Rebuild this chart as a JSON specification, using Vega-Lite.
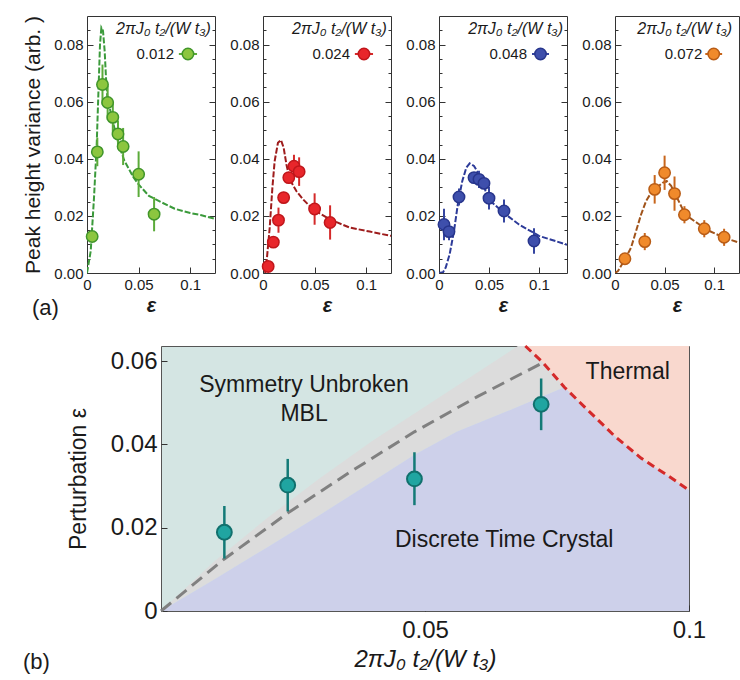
{
"$schema": "https://vega.github.io/schema/vega-lite/v6.json",
"padding": {"left": 22, "top": 15, "right": 0, "bottom": 0},
"background": "white",
"spacing": 19,
"config": {
  "font": "Liberation Sans",
  "view": {"stroke": "#333333", "strokeWidth": 1},
  "axis": {"grid": false, "domain": false, "tickColor": "#333333", "tickWidth": 1, "labelColor": "#1a1a1a", "titleColor": "#1a1a1a", "titleFontWeight": "normal", "labelFlush": false, "labelOverlap": false, "labelFont": "Liberation Sans", "titleFont": "Liberation Sans"}
},
"datasets": {
  "g": [
    {"x":0.005,"y":0.0128,"lo":0.0118,"hi":0.0138},
    {"x":0.01,"y":0.0424,"lo":0.0374,"hi":0.0474},
    {"x":0.015,"y":0.066,"lo":0.059,"hi":0.073},
    {"x":0.02,"y":0.0597,"lo":0.0537,"hi":0.0657},
    {"x":0.025,"y":0.0545,"lo":0.049,"hi":0.06},
    {"x":0.03,"y":0.0487,"lo":0.044,"hi":0.0534},
    {"x":0.035,"y":0.0443,"lo":0.0378,"hi":0.0508},
    {"x":0.05,"y":0.0346,"lo":0.0266,"hi":0.0426},
    {"x":0.065,"y":0.0206,"lo":0.0146,"hi":0.0266}
  ],
  "gc": [
    {"x":0,"y":0},{"x":0.0036,"y":0.0077},{"x":0.0068,"y":0.0264},{"x":0.0094,"y":0.045},{"x":0.011,"y":0.0626},
    {"x":0.0126,"y":0.08},{"x":0.0139,"y":0.0859},{"x":0.0155,"y":0.0848},{"x":0.0171,"y":0.0778},{"x":0.0184,"y":0.0684},
    {"x":0.0197,"y":0.0614},{"x":0.025,"y":0.053},{"x":0.03,"y":0.046},{"x":0.036,"y":0.0395},{"x":0.045,"y":0.0335},
    {"x":0.05,"y":0.031},{"x":0.06,"y":0.027},{"x":0.073,"y":0.0246},{"x":0.085,"y":0.0225},{"x":0.1,"y":0.021},
    {"x":0.11,"y":0.0203},{"x":0.124,"y":0.019}
  ],
  "r": [
    {"x":0.005,"y":0.0023,"lo":0.0013,"hi":0.0033},
    {"x":0.01,"y":0.0108,"lo":0.0098,"hi":0.0118},
    {"x":0.015,"y":0.0185,"lo":0.0141,"hi":0.0229},
    {"x":0.02,"y":0.0264,"lo":0.0244,"hi":0.0284},
    {"x":0.025,"y":0.0334,"lo":0.0314,"hi":0.0354},
    {"x":0.03,"y":0.0374,"lo":0.0334,"hi":0.0414},
    {"x":0.035,"y":0.0355,"lo":0.0305,"hi":0.0405},
    {"x":0.05,"y":0.0224,"lo":0.0169,"hi":0.0279},
    {"x":0.065,"y":0.0177,"lo":0.0117,"hi":0.0237}
  ],
  "rc": [
    {"x":0.002,"y":0},{"x":0.0035,"y":0.004},{"x":0.0065,"y":0.0159},{"x":0.0091,"y":0.0299},{"x":0.0113,"y":0.0392},
    {"x":0.0145,"y":0.0456},{"x":0.0174,"y":0.0466},{"x":0.02,"y":0.0439},{"x":0.0227,"y":0.038},{"x":0.0259,"y":0.0328},
    {"x":0.0323,"y":0.0287},{"x":0.0388,"y":0.0258},{"x":0.0484,"y":0.0223},{"x":0.0646,"y":0.0188},{"x":0.084,"y":0.0159},
    {"x":0.1034,"y":0.0145},{"x":0.124,"y":0.013}
  ],
  "b": [
    {"x":0.005,"y":0.017,"lo":0.0115,"hi":0.0225},
    {"x":0.01,"y":0.0145,"lo":0.0115,"hi":0.0175},
    {"x":0.02,"y":0.0266,"lo":0.0236,"hi":0.0296},
    {"x":0.035,"y":0.0334,"lo":0.0314,"hi":0.0354},
    {"x":0.04,"y":0.0328,"lo":0.0298,"hi":0.0358},
    {"x":0.045,"y":0.0314,"lo":0.0294,"hi":0.0334},
    {"x":0.05,"y":0.0262,"lo":0.0222,"hi":0.0302},
    {"x":0.065,"y":0.0217,"lo":0.0177,"hi":0.0257},
    {"x":0.095,"y":0.0112,"lo":0.0067,"hi":0.0157}
  ],
  "bc": [
    {"x":0,"y":0},{"x":0.0041,"y":0.0003},{"x":0.0067,"y":0.0019},{"x":0.0106,"y":0.0065},{"x":0.015,"y":0.0147},
    {"x":0.0193,"y":0.0252},{"x":0.0233,"y":0.0322},{"x":0.0273,"y":0.0369},{"x":0.0307,"y":0.0384},{"x":0.035,"y":0.0375},
    {"x":0.04,"y":0.0346},{"x":0.0466,"y":0.0287},{"x":0.0534,"y":0.0246},{"x":0.0667,"y":0.0205},{"x":0.08,"y":0.017},
    {"x":0.1,"y":0.013},{"x":0.128,"y":0.0099}
  ],
  "o": [
    {"x":0.01,"y":0.005,"lo":0.004,"hi":0.006},
    {"x":0.03,"y":0.011,"lo":0.008,"hi":0.014},
    {"x":0.04,"y":0.0293,"lo":0.0243,"hi":0.0343},
    {"x":0.05,"y":0.0351,"lo":0.0291,"hi":0.0411},
    {"x":0.06,"y":0.0278,"lo":0.0218,"hi":0.0338},
    {"x":0.07,"y":0.0204,"lo":0.0174,"hi":0.0234},
    {"x":0.09,"y":0.0155,"lo":0.0125,"hi":0.0185},
    {"x":0.11,"y":0.0125,"lo":0.0095,"hi":0.0155}
  ],
  "oc": [
    {"x":0,"y":0},{"x":0.003,"y":0.0007},{"x":0.0101,"y":0.0048},{"x":0.0162,"y":0.0089},{"x":0.0202,"y":0.0135},
    {"x":0.0263,"y":0.0205},{"x":0.0313,"y":0.0252},{"x":0.0364,"y":0.0281},{"x":0.042,"y":0.0299},{"x":0.048,"y":0.0316},
    {"x":0.0521,"y":0.0322},{"x":0.0566,"y":0.0305},{"x":0.0616,"y":0.027},{"x":0.0683,"y":0.0223},{"x":0.075,"y":0.0194},
    {"x":0.0851,"y":0.017},{"x":0.0952,"y":0.0147},{"x":0.1087,"y":0.0126},{"x":0.125,"y":0.0106}
  ],
  "band": [
    {"x":0,"lo":0,"hi":0},{"x":0.01,"lo":0.0075,"hi":0.0118},{"x":0.02,"lo":0.0152,"hi":0.0222},
    {"x":0.03,"lo":0.023,"hi":0.0318},{"x":0.04,"lo":0.031,"hi":0.0408},{"x":0.048,"lo":0.0375,"hi":0.0474},
    {"x":0.056,"lo":0.043,"hi":0.054},{"x":0.0676,"lo":0.049,"hi":0.0636},{"x":0.0764,"lo":0.0537,"hi":0.0636}
  ],
  "dtc": [
    {"x":0,"y":0},{"x":0.01,"y":0.0075},{"x":0.02,"y":0.0152},{"x":0.03,"y":0.023},{"x":0.04,"y":0.031},
    {"x":0.048,"y":0.0375},{"x":0.056,"y":0.043},{"x":0.0676,"y":0.049},{"x":0.0764,"y":0.0537},{"x":0.0802,"y":0.049},
    {"x":0.0859,"y":0.042},{"x":0.0909,"y":0.0367},{"x":0.096,"y":0.0325},{"x":0.1,"y":0.029}
  ],
  "red": [
    {"x":0.069,"y":0.0636},{"x":0.0722,"y":0.0598},{"x":0.0764,"y":0.0537},{"x":0.0802,"y":0.049},
    {"x":0.0859,"y":0.042},{"x":0.0909,"y":0.0367},{"x":0.096,"y":0.0325},{"x":0.1,"y":0.029}
  ],
  "gline": [
    {"x":0,"y":0},{"x":0.012,"y":0.0125},{"x":0.024,"y":0.0235},{"x":0.036,"y":0.0335},{"x":0.048,"y":0.043},
    {"x":0.06,"y":0.0515},{"x":0.072,"y":0.0594}
  ],
  "ph": [
    {"x":0.012,"y":0.0189,"lo":0.0126,"hi":0.0252},
    {"x":0.024,"y":0.0302,"lo":0.0239,"hi":0.0365},
    {"x":0.048,"y":0.0317,"lo":0.0254,"hi":0.0381},
    {"x":0.072,"y":0.0496,"lo":0.0434,"hi":0.0558}
  ]
},
"vconcat": [
  {"spacing": 13, "hconcat": [
    {"width": 128, "height": 257, "resolve": {"axis": {"y": "independent"}}, "layer": [
      {"data": {"name": "gc"}, "mark": {"type": "line", "color": "#3b9a3b", "strokeWidth": 2, "strokeDash": [6, 2], "clip": true},
       "encoding": {
         "x": {"field": "x", "type": "quantitative", "scale": {"domain": [0, 0.124], "nice": false, "zero": false},
               "axis": {"values": [0, 0.05, 0.1], "format": ".2~f", "tickSize": -6, "labelPadding": 10, "labelFontSize": 15, "title": "ε", "titleFontSize": 20, "titleFontStyle": "italic", "titleFontWeight": "bold", "titlePadding": 3}},
         "y": {"field": "y", "type": "quantitative", "scale": {"domain": [0, 0.09], "nice": false},
               "axis": {"values": [0, 0.02, 0.04, 0.06, 0.08], "format": ".2f", "tickSize": -6, "labelPadding": 10, "labelFontSize": 15, "title": "Peak height variance (arb. )", "titleFontSize": 21, "titlePadding": 10}}}},
      {"data": {"name": "gc"}, "mark": {"type": "line", "opacity": 0},
       "encoding": {"x": {"field": "x", "type": "quantitative"}, "y": {"field": "y", "type": "quantitative", "axis": {"orient": "left", "values": [0.005,0.01,0.015,0.025,0.03,0.035,0.045,0.05,0.055,0.065,0.07,0.075,0.085], "labels": false, "tickSize": -3, "title": null, "minExtent": 0}}}},
      {"data": {"name": "gc"}, "mark": {"type": "line", "opacity": 0},
       "encoding": {"x": {"field": "x", "type": "quantitative"}, "y": {"field": "y", "type": "quantitative", "axis": {"orient": "right", "values": [0.005,0.01,0.015,0.025,0.03,0.035,0.045,0.05,0.055,0.065,0.07,0.075,0.085], "labels": false, "tickSize": -3, "title": null, "minExtent": 0}}}},
      {"data": {"name": "gc"}, "mark": {"type": "line", "opacity": 0},
       "encoding": {"x": {"field": "x", "type": "quantitative"}, "y": {"field": "y", "type": "quantitative", "axis": {"orient": "right", "values": [0.02,0.04,0.06,0.08], "labels": false, "tickSize": -6, "title": null, "minExtent": 0}}}},
      {"data": {"name": "g"}, "mark": {"type": "rule", "color": "#5bab3a", "strokeWidth": 2},
       "encoding": {"x": {"field": "x", "type": "quantitative"}, "y": {"field": "lo", "type": "quantitative", "axis": null}, "y2": {"field": "hi"}}},
      {"data": {"name": "g"}, "mark": {"type": "circle", "size": 130, "fill": "#8cc63f", "stroke": "#40952a", "strokeWidth": 1.5, "opacity": 1},
       "encoding": {"x": {"field": "x", "type": "quantitative"}, "y": {"field": "y", "type": "quantitative", "axis": null}}},
      {"data": {"values": [{}]}, "mark": {"type": "text", "text": "2πJ₀ t₂/(W t₃)", "align": "right", "baseline": "middle", "fontSize": 16, "fontStyle": "italic", "color": "#1a1a1a"},
       "encoding": {"x": {"datum": 0.12}, "y": {"datum": 0.0855, "axis": null}}},
      {"data": {"values": [{}]}, "mark": {"type": "text", "text": "0.012", "align": "right", "baseline": "middle", "fontSize": 15, "color": "#1a1a1a"},
       "encoding": {"x": {"datum": 0.0843}, "y": {"datum": 0.0767, "axis": null}}},
      {"data": {"values": [{}]}, "mark": {"type": "rule", "color": "#5bab3a", "strokeWidth": 2},
       "encoding": {"x": {"datum": 0.089}, "x2": {"datum": 0.1066}, "y": {"datum": 0.0767, "axis": null}}},
      {"data": {"values": [{}]}, "mark": {"type": "circle", "size": 130, "fill": "#8cc63f", "stroke": "#40952a", "strokeWidth": 1.5, "opacity": 1},
       "encoding": {"x": {"datum": 0.0978}, "y": {"datum": 0.0767, "axis": null}}},
      {"data": {"values": [{}]}, "mark": {"type": "text", "text": "(a)", "align": "left", "baseline": "middle", "fontSize": 22, "color": "#1a1a1a"},
       "encoding": {"x": {"datum": -0.0533}, "y": {"datum": -0.0123, "axis": null}}}
    ]},
    {"width": 128, "height": 257, "resolve": {"axis": {"y": "independent"}}, "layer": [
      {"data": {"name": "rc"}, "mark": {"type": "line", "color": "#9e1c1c", "strokeWidth": 2, "strokeDash": [6, 2], "clip": true},
       "encoding": {
         "x": {"field": "x", "type": "quantitative", "scale": {"domain": [0, 0.124], "nice": false, "zero": false},
               "axis": {"values": [0, 0.05, 0.1], "format": ".2~f", "tickSize": -6, "labelPadding": 10, "labelFontSize": 15, "title": "ε", "titleFontSize": 20, "titleFontStyle": "italic", "titleFontWeight": "bold", "titlePadding": 3}},
         "y": {"field": "y", "type": "quantitative", "scale": {"domain": [0, 0.09], "nice": false},
               "axis": {"values": [0, 0.02, 0.04, 0.06, 0.08], "format": ".2f", "tickSize": -6, "labelPadding": 10, "labelFontSize": 15, "title": null}}}},
      {"data": {"name": "rc"}, "mark": {"type": "line", "opacity": 0},
       "encoding": {"x": {"field": "x", "type": "quantitative"}, "y": {"field": "y", "type": "quantitative", "axis": {"orient": "left", "values": [0.005,0.01,0.015,0.025,0.03,0.035,0.045,0.05,0.055,0.065,0.07,0.075,0.085], "labels": false, "tickSize": -3, "title": null, "minExtent": 0}}}},
      {"data": {"name": "rc"}, "mark": {"type": "line", "opacity": 0},
       "encoding": {"x": {"field": "x", "type": "quantitative"}, "y": {"field": "y", "type": "quantitative", "axis": {"orient": "right", "values": [0.005,0.01,0.015,0.025,0.03,0.035,0.045,0.05,0.055,0.065,0.07,0.075,0.085], "labels": false, "tickSize": -3, "title": null, "minExtent": 0}}}},
      {"data": {"name": "rc"}, "mark": {"type": "line", "opacity": 0},
       "encoding": {"x": {"field": "x", "type": "quantitative"}, "y": {"field": "y", "type": "quantitative", "axis": {"orient": "right", "values": [0.02,0.04,0.06,0.08], "labels": false, "tickSize": -6, "title": null, "minExtent": 0}}}},
      {"data": {"name": "r"}, "mark": {"type": "rule", "color": "#d42a2a", "strokeWidth": 2},
       "encoding": {"x": {"field": "x", "type": "quantitative"}, "y": {"field": "lo", "type": "quantitative", "axis": null}, "y2": {"field": "hi"}}},
      {"data": {"name": "r"}, "mark": {"type": "circle", "size": 130, "fill": "#e8262b", "stroke": "#c0161b", "strokeWidth": 1.5, "opacity": 1},
       "encoding": {"x": {"field": "x", "type": "quantitative"}, "y": {"field": "y", "type": "quantitative", "axis": null}}},
      {"data": {"values": [{}]}, "mark": {"type": "text", "text": "2πJ₀ t₂/(W t₃)", "align": "right", "baseline": "middle", "fontSize": 16, "fontStyle": "italic", "color": "#1a1a1a"},
       "encoding": {"x": {"datum": 0.12}, "y": {"datum": 0.0855, "axis": null}}},
      {"data": {"values": [{}]}, "mark": {"type": "text", "text": "0.024", "align": "right", "baseline": "middle", "fontSize": 15, "color": "#1a1a1a"},
       "encoding": {"x": {"datum": 0.0843}, "y": {"datum": 0.0767, "axis": null}}},
      {"data": {"values": [{}]}, "mark": {"type": "rule", "color": "#d42a2a", "strokeWidth": 2},
       "encoding": {"x": {"datum": 0.089}, "x2": {"datum": 0.1066}, "y": {"datum": 0.0767, "axis": null}}},
      {"data": {"values": [{}]}, "mark": {"type": "circle", "size": 130, "fill": "#e8262b", "stroke": "#c0161b", "strokeWidth": 1.5, "opacity": 1},
       "encoding": {"x": {"datum": 0.0978}, "y": {"datum": 0.0767, "axis": null}}}
    ]},
    {"width": 128, "height": 257, "resolve": {"axis": {"y": "independent"}}, "layer": [
      {"data": {"name": "bc"}, "mark": {"type": "line", "color": "#2d3b99", "strokeWidth": 2, "strokeDash": [6, 2], "clip": true},
       "encoding": {
         "x": {"field": "x", "type": "quantitative", "scale": {"domain": [0, 0.128], "nice": false, "zero": false},
               "axis": {"values": [0, 0.05, 0.1], "format": ".2~f", "tickSize": -6, "labelPadding": 10, "labelFontSize": 15, "title": "ε", "titleFontSize": 20, "titleFontStyle": "italic", "titleFontWeight": "bold", "titlePadding": 3}},
         "y": {"field": "y", "type": "quantitative", "scale": {"domain": [0, 0.09], "nice": false},
               "axis": {"values": [0, 0.02, 0.04, 0.06, 0.08], "format": ".2f", "tickSize": -6, "labelPadding": 10, "labelFontSize": 15, "title": null}}}},
      {"data": {"name": "bc"}, "mark": {"type": "line", "opacity": 0},
       "encoding": {"x": {"field": "x", "type": "quantitative"}, "y": {"field": "y", "type": "quantitative", "axis": {"orient": "left", "values": [0.005,0.01,0.015,0.025,0.03,0.035,0.045,0.05,0.055,0.065,0.07,0.075,0.085], "labels": false, "tickSize": -3, "title": null, "minExtent": 0}}}},
      {"data": {"name": "bc"}, "mark": {"type": "line", "opacity": 0},
       "encoding": {"x": {"field": "x", "type": "quantitative"}, "y": {"field": "y", "type": "quantitative", "axis": {"orient": "right", "values": [0.005,0.01,0.015,0.025,0.03,0.035,0.045,0.05,0.055,0.065,0.07,0.075,0.085], "labels": false, "tickSize": -3, "title": null, "minExtent": 0}}}},
      {"data": {"name": "bc"}, "mark": {"type": "line", "opacity": 0},
       "encoding": {"x": {"field": "x", "type": "quantitative"}, "y": {"field": "y", "type": "quantitative", "axis": {"orient": "right", "values": [0.02,0.04,0.06,0.08], "labels": false, "tickSize": -6, "title": null, "minExtent": 0}}}},
      {"data": {"name": "b"}, "mark": {"type": "rule", "color": "#3545a0", "strokeWidth": 2},
       "encoding": {"x": {"field": "x", "type": "quantitative"}, "y": {"field": "lo", "type": "quantitative", "axis": null}, "y2": {"field": "hi"}}},
      {"data": {"name": "b"}, "mark": {"type": "circle", "size": 130, "fill": "#3e4fac", "stroke": "#27358c", "strokeWidth": 1.5, "opacity": 1},
       "encoding": {"x": {"field": "x", "type": "quantitative"}, "y": {"field": "y", "type": "quantitative", "axis": null}}},
      {"data": {"values": [{}]}, "mark": {"type": "text", "text": "2πJ₀ t₂/(W t₃)", "align": "right", "baseline": "middle", "fontSize": 16, "fontStyle": "italic", "color": "#1a1a1a"},
       "encoding": {"x": {"datum": 0.124}, "y": {"datum": 0.0855, "axis": null}}},
      {"data": {"values": [{}]}, "mark": {"type": "text", "text": "0.048", "align": "right", "baseline": "middle", "fontSize": 15, "color": "#1a1a1a"},
       "encoding": {"x": {"datum": 0.088}, "y": {"datum": 0.0767, "axis": null}}},
      {"data": {"values": [{}]}, "mark": {"type": "rule", "color": "#3545a0", "strokeWidth": 2},
       "encoding": {"x": {"datum": 0.093}, "x2": {"datum": 0.11}, "y": {"datum": 0.0767, "axis": null}}},
      {"data": {"values": [{}]}, "mark": {"type": "circle", "size": 130, "fill": "#3e4fac", "stroke": "#27358c", "strokeWidth": 1.5, "opacity": 1},
       "encoding": {"x": {"datum": 0.1015}, "y": {"datum": 0.0767, "axis": null}}}
    ]},
    {"width": 124, "height": 257, "resolve": {"axis": {"y": "independent"}}, "layer": [
      {"data": {"name": "oc"}, "mark": {"type": "line", "color": "#a1541b", "strokeWidth": 2, "strokeDash": [6, 2], "clip": true},
       "encoding": {
         "x": {"field": "x", "type": "quantitative", "scale": {"domain": [0, 0.125], "nice": false, "zero": false},
               "axis": {"values": [0, 0.05, 0.1], "format": ".2~f", "tickSize": -6, "labelPadding": 10, "labelFontSize": 15, "title": "ε", "titleFontSize": 20, "titleFontStyle": "italic", "titleFontWeight": "bold", "titlePadding": 3}},
         "y": {"field": "y", "type": "quantitative", "scale": {"domain": [0, 0.09], "nice": false},
               "axis": {"values": [0, 0.02, 0.04, 0.06, 0.08], "format": ".2f", "tickSize": -6, "labelPadding": 10, "labelFontSize": 15, "title": null}}}},
      {"data": {"name": "oc"}, "mark": {"type": "line", "opacity": 0},
       "encoding": {"x": {"field": "x", "type": "quantitative"}, "y": {"field": "y", "type": "quantitative", "axis": {"orient": "left", "values": [0.005,0.01,0.015,0.025,0.03,0.035,0.045,0.05,0.055,0.065,0.07,0.075,0.085], "labels": false, "tickSize": -3, "title": null, "minExtent": 0}}}},
      {"data": {"name": "o"}, "mark": {"type": "rule", "color": "#c8661c", "strokeWidth": 2},
       "encoding": {"x": {"field": "x", "type": "quantitative"}, "y": {"field": "lo", "type": "quantitative", "axis": null}, "y2": {"field": "hi"}}},
      {"data": {"name": "o"}, "mark": {"type": "circle", "size": 130, "fill": "#f08a2b", "stroke": "#b85c16", "strokeWidth": 1.5, "opacity": 1},
       "encoding": {"x": {"field": "x", "type": "quantitative"}, "y": {"field": "y", "type": "quantitative", "axis": null}}},
      {"data": {"values": [{}]}, "mark": {"type": "text", "text": "2πJ₀ t₂/(W t₃)", "align": "right", "baseline": "middle", "fontSize": 16, "fontStyle": "italic", "color": "#1a1a1a"},
       "encoding": {"x": {"datum": 0.118}, "y": {"datum": 0.0855, "axis": null}}},
      {"data": {"values": [{}]}, "mark": {"type": "text", "text": "0.072", "align": "right", "baseline": "middle", "fontSize": 15, "color": "#1a1a1a"},
       "encoding": {"x": {"datum": 0.088}, "y": {"datum": 0.0767, "axis": null}}},
      {"data": {"values": [{}]}, "mark": {"type": "rule", "color": "#c8661c", "strokeWidth": 2},
       "encoding": {"x": {"datum": 0.091}, "x2": {"datum": 0.108}, "y": {"datum": 0.0767, "axis": null}}},
      {"data": {"values": [{}]}, "mark": {"type": "circle", "size": 130, "fill": "#f08a2b", "stroke": "#b85c16", "strokeWidth": 1.5, "opacity": 1},
       "encoding": {"x": {"datum": 0.0995}, "y": {"datum": 0.0767, "axis": null}}}
    ]}
  ]},
  {"spacing": -69, "hconcat": [
    {"width": 1, "height": 265, "view": {"stroke": null}, "data": {"values": [{}]}, "mark": {"type": "point", "opacity": 0}, "encoding": {}},
    {"width": 528, "height": 265,
     "view": {"fill": "#d4e5e3", "stroke": "#555555"},
     "layer": [
      {"data": {"name": "band"}, "mark": {"type": "area", "color": "#dcdcdc", "opacity": 1},
       "encoding": {
         "x": {"field": "x", "type": "quantitative", "scale": {"domain": [0, 0.1], "nice": false, "zero": false},
               "axis": {"values": [0.05, 0.1], "format": ".2~f", "tickSize": -6, "labelPadding": 13, "labelFontSize": 24, "title": "2πJ₀ t₂/(W t₃)", "titleFontSize": 24, "titleFontStyle": "italic", "titlePadding": 5}},
         "y": {"field": "lo", "type": "quantitative", "scale": {"domain": [0, 0.0636], "nice": false},
               "axis": {"values": [0, 0.02, 0.04, 0.06], "format": ".2~f", "tickSize": -6, "labelPadding": 10, "labelFontSize": 24, "title": "Perturbation ε", "titleFontSize": 23, "titlePadding": 20}},
         "y2": {"field": "hi"}}},
      {"data": {"name": "dtc"}, "mark": {"type": "area", "color": "#cdd0ea", "opacity": 1},
       "encoding": {"x": {"field": "x", "type": "quantitative"}, "y": {"field": "y", "type": "quantitative"}, "y2": {"datum": 0}}},
      {"data": {"name": "red"}, "mark": {"type": "area", "color": "#f9d8ce", "opacity": 1},
       "encoding": {"x": {"field": "x", "type": "quantitative"}, "y": {"field": "y", "type": "quantitative"}, "y2": {"datum": 0.0636}}},
      {"data": {"name": "gline"}, "mark": {"type": "line", "color": "#808080", "strokeWidth": 3, "strokeDash": [13, 7]},
       "encoding": {"x": {"field": "x", "type": "quantitative"}, "y": {"field": "y", "type": "quantitative"}}},
      {"data": {"name": "red"}, "mark": {"type": "line", "color": "#d42a2a", "strokeWidth": 3, "strokeDash": [8, 5]},
       "encoding": {"x": {"field": "x", "type": "quantitative"}, "y": {"field": "y", "type": "quantitative"}}},
      {"data": {"name": "ph"}, "mark": {"type": "rule", "color": "#137a77", "strokeWidth": 2.5},
       "encoding": {"x": {"field": "x", "type": "quantitative"}, "y": {"field": "lo", "type": "quantitative"}, "y2": {"field": "hi"}}},
      {"data": {"name": "ph"}, "mark": {"type": "circle", "size": 220, "fill": "#20a5a1", "stroke": "#11706d", "strokeWidth": 2, "opacity": 1},
       "encoding": {"x": {"field": "x", "type": "quantitative"}, "y": {"field": "y", "type": "quantitative"}}},
      {"data": {"values": [{}]}, "mark": {"type": "text", "text": ["Symmetry Unbroken", "MBL"], "lineHeight": 29, "align": "center", "baseline": "alphabetic", "fontSize": 23, "color": "#1a1a1a"},
       "encoding": {"x": {"datum": 0.0271}, "y": {"datum": 0.0526}}},
      {"data": {"values": [{}]}, "mark": {"type": "text", "text": "Thermal", "align": "center", "baseline": "alphabetic", "fontSize": 23, "color": "#1a1a1a"},
       "encoding": {"x": {"datum": 0.0884}, "y": {"datum": 0.0556}}},
      {"data": {"values": [{}]}, "mark": {"type": "text", "text": "Discrete Time Crystal", "align": "center", "baseline": "alphabetic", "fontSize": 23, "color": "#1a1a1a"},
       "encoding": {"x": {"datum": 0.065}, "y": {"datum": 0.0154}}},
      {"data": {"values": [{}]}, "mark": {"type": "text", "text": "\u00a0\u00a0(b)", "align": "left", "baseline": "middle", "fontSize": 22, "color": "#1a1a1a"},
       "encoding": {"x": {"datum": -0.02614}, "y": {"datum": -0.0122}}}
     ]}
  ]}
]
}
